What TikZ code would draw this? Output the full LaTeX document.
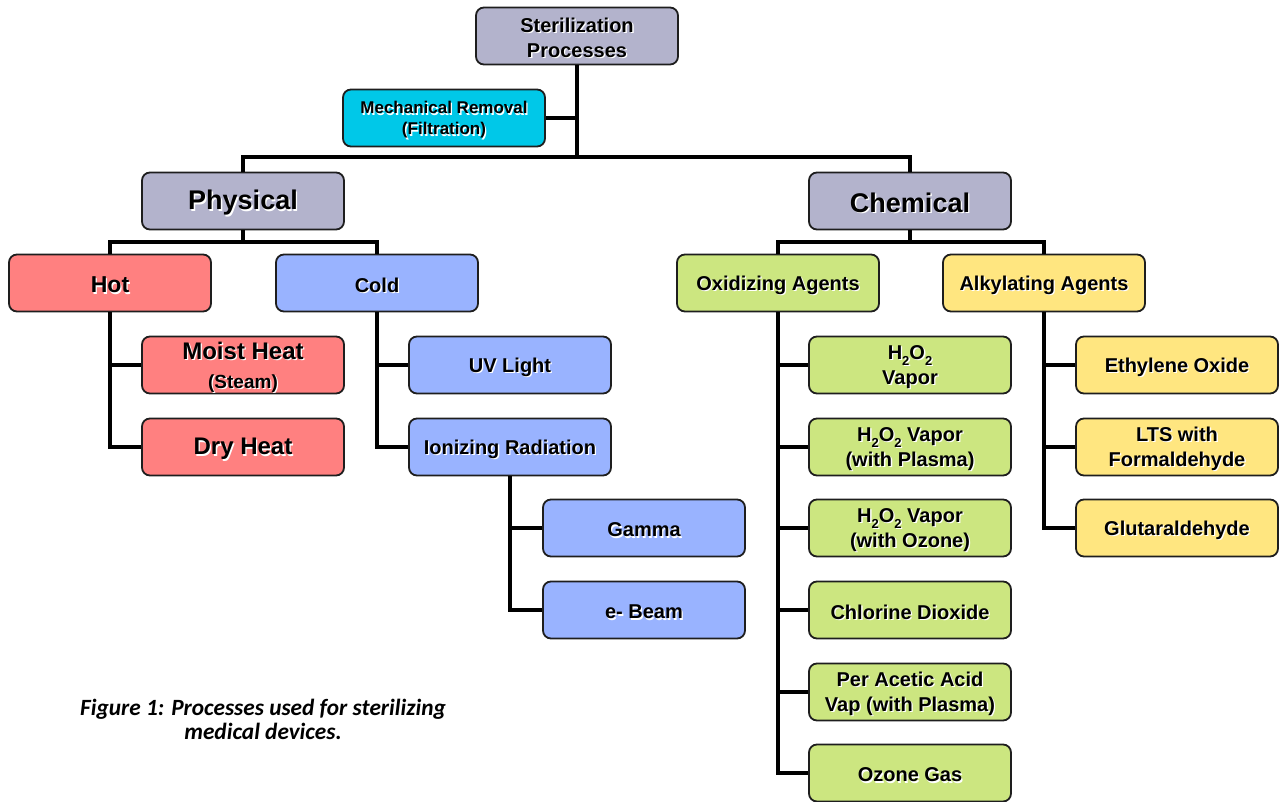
\documentclass[tikz,border=0pt]{standalone}
\usepackage{fontspec}
\setmainfont{Liberation Sans}
\newfontfamily\capfont{Carlito}
\usetikzlibrary{calc}
\definecolor{lav}{RGB}{179,179,204}
\definecolor{cyanb}{RGB}{0,200,232}
\definecolor{hotc}{RGB}{255,128,128}
\definecolor{coldc}{RGB}{153,179,255}
\definecolor{grn}{RGB}{204,230,128}
\definecolor{ylw}{RGB}{255,230,128}
\definecolor{edge}{RGB}{30,30,30}
\newcommand\subtwo{\raisebox{-0.28em}{\fontsize{13}{13}\selectfont 2}}
\newcommand\fs[1]{\fontsize{#1}{25}\selectfont\bfseries}
\newcommand\bx[4]{%
  \node[box,#3] (#1) at (#2) {};
  \node[#3,txt,text=white] at ([shift={(1.3,1.3)}]#1.center) {#4};
  \node[#3,txt] at (#1.center) {#4};
}
\tikzset{
  box/.style={draw=edge,line width=1.8pt,rounded corners=8pt,minimum width=202pt,minimum height=57pt,inner sep=0pt,align=center,text=black},
  txt/.style={draw=none,fill=none,align=center,inner sep=0pt,yshift=-2pt},
  conn/.style={line width=4pt,black},
  f20/.style={font=\fs{20}},
}
\begin{document}
\begin{tikzpicture}[x=1pt,y=-1pt]
\useasboundingbox (0,0) rectangle (1284,802);
% boxes
\bx{ster}{577,36}{fill=lav,f20}{Sterilization\\Processes}
\bx{mech}{444,118}{fill=cyanb,font=\fs{17}\fontsize{17}{21}\selectfont}{Mechanical Removal\\(Filtration)}
\bx{phys}{243,201}{fill=lav,font=\fs{27}}{Physical}
\bx{chem}{910,201}{fill=lav,font=\fs{27}}{Chemical}
\bx{hot}{110,283}{fill=hotc,font=\fs{23}}{Hot}
\bx{cold}{377,283}{fill=coldc,f20}{Cold}
\bx{oxid}{778,283}{fill=grn,f20}{Oxidizing Agents}
\bx{alky}{1044,283}{fill=ylw,f20}{Alkylating Agents}
\bx{moist}{243,365}{fill=hotc,font=\fs{24}}{Moist Heat\\[4pt]{\fontsize{19}{20}\selectfont (Steam)}}
\bx{dry}{243,447}{fill=hotc,font=\fs{24}}{Dry Heat}
\bx{uv}{510,365}{fill=coldc,f20}{UV Light}
\bx{ion}{510,447}{fill=coldc,f20}{Ionizing Radiation}
\bx{gamma}{644,528}{fill=coldc,f20}{Gamma}
\bx{ebeam}{644,610}{fill=coldc,f20}{e- Beam}
\bx{h1}{910,365}{fill=grn,f20}{H\subtwo O\subtwo\\Vapor}
\bx{h2}{910,447}{fill=grn,f20}{H\subtwo O\subtwo{} Vapor\\(with Plasma)}
\bx{h3}{910,528}{fill=grn,f20}{H\subtwo O\subtwo{} Vapor\\(with Ozone)}
\bx{chl}{910,610}{fill=grn,f20}{Chlorine Dioxide}
\bx{per}{910,692}{fill=grn,f20}{Per Acetic Acid\\Vap (with Plasma)}
\bx{ozo}{910,773}{fill=grn,f20}{Ozone Gas}
\bx{eth}{1177,365}{fill=ylw,f20}{Ethylene Oxide}
\bx{lts}{1177,447}{fill=ylw,f20}{LTS with\\Formaldehyde}
\bx{glu}{1177,528}{fill=ylw,f20}{Glutaraldehyde}
% connectors
\coordinate (bus1) at (577,157);
\coordinate (bus2) at (243,242);
\coordinate (bus3) at (910,242);
\draw[conn] (ster.south) -- (bus1);
\draw[conn] (mech.east) -- (mech.east -| ster.south);
\draw[conn] (phys.north) |- (bus1) -| (chem.north);
\draw[conn] (phys.south) -- (bus2);
\draw[conn] (hot.north) |- (bus2) -| (cold.north);
\draw[conn] (chem.south) -- (bus3);
\draw[conn] (oxid.north) |- (bus3) -| (alky.north);
\draw[conn] (hot.south) |- (dry.west);
\draw[conn] (moist.west) -- (moist.west -| hot.south);
\draw[conn] (cold.south) |- (ion.west);
\draw[conn] (uv.west) -- (uv.west -| cold.south);
\draw[conn] (ion.south) |- (ebeam.west);
\draw[conn] (gamma.west) -- (gamma.west -| ion.south);
\draw[conn] (oxid.south) |- (ozo.west);
\foreach \n in {h1,h2,h3,chl,per} \draw[conn] (\n.west) -- (\n.west -| oxid.south);
\draw[conn] (alky.south) |- (glu.west);
\foreach \n in {eth,lts} \draw[conn] (\n.west) -- (\n.west -| alky.south);
% caption
\node[align=center,font=\capfont\bfseries\itshape\fontsize{23.3}{24}\selectfont] (cap) at (263,719) {Figure 1: Processes used for sterilizing\\medical devices.};
\end{tikzpicture}
\end{document}
